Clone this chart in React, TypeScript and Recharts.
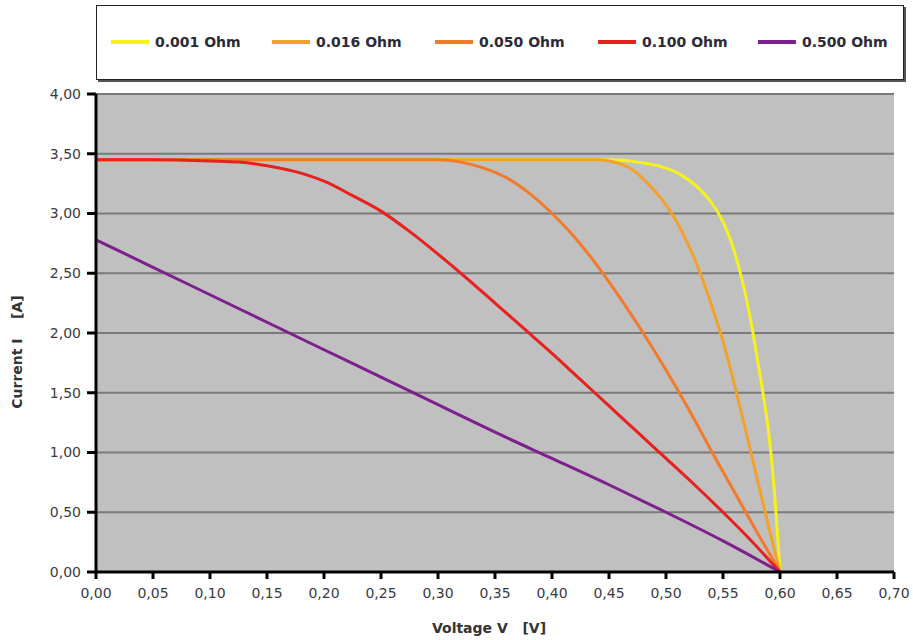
import React from 'react';
import { LineChart, Line, XAxis, YAxis, CartesianGrid } from 'recharts';

const seriesNames = ['0.001 Ohm', '0.016 Ohm', '0.050 Ohm', '0.100 Ohm', '0.500 Ohm'];
const seriesColors = ['#f6f21a', '#f2a22a', '#f27a2a', '#e8201e', '#7e1f8e'];

const v001 = [0, 0.1, 0.2, 0.3, 0.4, 0.45, 0.475, 0.5, 0.51, 0.52, 0.53, 0.54, 0.55, 0.555, 0.56, 0.565, 0.57, 0.575, 0.58, 0.585, 0.59, 0.595, 0.6];
const i001 = [3.45, 3.45, 3.45, 3.45, 3.45, 3.45, 3.43, 3.38, 3.34, 3.28, 3.2, 3.09, 2.93, 2.82, 2.68, 2.51, 2.31, 2.07, 1.79, 1.5, 1.17, 0.68, 0];

const v016 = [0, 0.1, 0.2, 0.3, 0.4, 0.44, 0.45, 0.46, 0.47, 0.48, 0.49, 0.5, 0.51, 0.52, 0.53, 0.54, 0.55, 0.56, 0.57, 0.58, 0.59, 0.6];
const i016 = [3.45, 3.45, 3.45, 3.45, 3.45, 3.45, 3.44, 3.415, 3.37, 3.29, 3.19, 3.07, 2.92, 2.73, 2.5, 2.23, 1.93, 1.57, 1.18, 0.78, 0.38, 0];

const v050 = [0, 0.1, 0.2, 0.3, 0.32, 0.34, 0.36, 0.38, 0.4, 0.42, 0.44, 0.46, 0.48, 0.5, 0.52, 0.54, 0.56, 0.58, 0.6];
const i050 = [3.45, 3.45, 3.45, 3.45, 3.43, 3.38, 3.3, 3.17, 3.0, 2.8, 2.56, 2.29, 2.0, 1.69, 1.36, 1.01, 0.67, 0.33, 0];

const v100 = [0, 0.05, 0.1, 0.125, 0.15, 0.175, 0.2, 0.225, 0.25, 0.275, 0.3, 0.325, 0.35, 0.375, 0.4, 0.425, 0.45, 0.475, 0.5, 0.525, 0.55, 0.575, 0.6];
const i100 = [3.45, 3.45, 3.44, 3.43, 3.4, 3.35, 3.27, 3.15, 3.02, 2.85, 2.66, 2.46, 2.25, 2.04, 1.83, 1.61, 1.39, 1.17, 0.95, 0.73, 0.5, 0.26, 0];

const v500 = [0, 0.05, 0.1, 0.15, 0.2, 0.25, 0.3, 0.35, 0.4, 0.45, 0.5, 0.55, 0.6];
const i500 = [2.78, 2.55, 2.32, 2.09, 1.86, 1.63, 1.4, 1.17, 0.95, 0.73, 0.5, 0.26, 0];

const xTicks = [0, 0.05, 0.1, 0.15, 0.2, 0.25, 0.3, 0.35, 0.4, 0.45, 0.5, 0.55, 0.6, 0.65, 0.7];
const yTicks = [0, 0.5, 1, 1.5, 2, 2.5, 3, 3.5, 4];

const build = (vs: number[], is: number[]) => vs.map((v, k) => ({ v, i: is[k] }));
const seriesData = [build(v001, i001), build(v016, i016), build(v050, i050), build(v100, i100), build(v500, i500)];

const fmt = (n: number) => n.toFixed(2).replace('.', ',');
const FONT = 'DejaVu Sans, Verdana, sans-serif';
const tickStyle = { fontFamily: FONT, fontSize: 14, fill: '#3a3a44' };
const NB = '\u00A0';

const legendX = [111, 272, 435, 598, 758];

const YTitle = () => (
  <text x={17} y={352} transform="rotate(-90 17 352)" textAnchor="middle" dominantBaseline="central"
    fontFamily={FONT} fontSize={14} fontWeight="bold" fill="#333">
    {`Current I${NB}${NB}${NB}${NB}[A]`}
  </text>
);

const XTitle = () => (
  <text x={489} y={628} textAnchor="middle" dominantBaseline="central"
    fontFamily={FONT} fontSize={14} fontWeight="bold" fill="#333">
    {`Voltage V${NB}${NB}${NB}[V]`}
  </text>
);

export default function App() {
  return (
    <div style={{ position: 'absolute', left: 0, top: 0, width: 913, height: 640, background: '#fff' }}>
      <div
        style={{
          position: 'absolute', left: 96, top: 5, width: 806, height: 73,
          border: '1.5px solid #222', boxShadow: '2px 2px 0 #555', background: '#fff',
          fontFamily: FONT
        }}
      >
        {seriesNames.map((name, k) => (
          <div key={name} style={{ position: 'absolute', left: legendX[k] - 97, top: 28, display: 'flex', alignItems: 'center' }}>
            <div style={{ width: 38, height: 4, background: seriesColors[k], marginRight: 6 }} />
            <span style={{ fontSize: 14, fontWeight: 'bold', color: '#2a2a38', whiteSpace: 'nowrap' }}>{name}</span>
          </div>
        ))}
      </div>
      <LineChart width={913} height={640} margin={{ top: 94, right: 19, bottom: 38, left: 36 }}>
        <CartesianGrid vertical={false} fill="#c0c0c0" stroke="#7a7a7a" strokeWidth={2} horizontalValues={yTicks} />
        <XAxis
          type="number" dataKey="v" domain={[0, 0.7]} ticks={xTicks} tickFormatter={fmt}
          allowDuplicatedCategory={false}
          tick={tickStyle} tickSize={7} tickMargin={9} height={30}
          axisLine={{ stroke: '#000', strokeWidth: 3 }} tickLine={{ stroke: '#000', strokeWidth: 3 }}
          label={{ content: () => <XTitle /> }}
        />
        <XAxis xAxisId="top" orientation="top" type="number" dataKey="v" domain={[0, 0.7]} tick={false} tickLine={false} height={0} axisLine={{ stroke: '#111', strokeWidth: 2.5 }} />
        <YAxis
          type="number" domain={[0, 4]} ticks={yTicks} tickFormatter={fmt}
          tick={tickStyle} tickSize={9} tickMargin={6} width={60}
          axisLine={{ stroke: '#000', strokeWidth: 3 }} tickLine={{ stroke: '#000', strokeWidth: 3 }}
          label={{ content: () => <YTitle /> }}
        />
        <YAxis yAxisId="right" orientation="right" domain={[0, 4]} tick={false} tickLine={false} width={0} axisLine={{ stroke: '#222', strokeWidth: 2 }} />
        {seriesData.map((d, k) => (
          <Line
            key={seriesNames[k]} data={d} dataKey="i" name={seriesNames[k]} type="monotone"
            stroke={seriesColors[k]} strokeWidth={3} dot={false} isAnimationActive={false}
          />
        ))}
      </LineChart>
    </div>
  );
}
